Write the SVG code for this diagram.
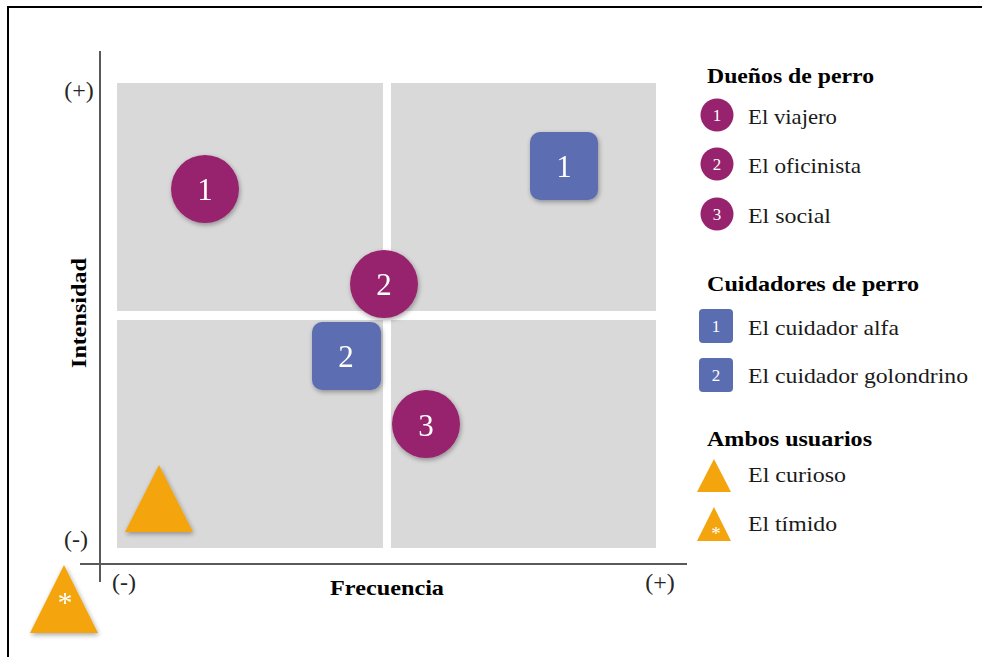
<svg xmlns="http://www.w3.org/2000/svg" width="982" height="657" viewBox="0 0 982 657">
  <defs>
    <filter id="shadow" x="-30%" y="-30%" width="160%" height="160%">
      <feGaussianBlur in="SourceAlpha" stdDeviation="2.5"/>
      <feOffset dx="1" dy="2" result="b"/>
      <feComponentTransfer><feFuncA type="linear" slope="0.35"/></feComponentTransfer>
      <feMerge><feMergeNode/><feMergeNode in="SourceGraphic"/></feMerge>
    </filter>
  </defs>
  <style>
    .quad { fill: #d9d9d9; }
    .axis { stroke: #595959; stroke-width: 2; fill: none; }
    .owner { fill: #97226d; }
    .sitter { fill: #5b6db1; }
    .both { fill: #f4a40c; }
    .num { font-family: "Liberation Serif", "Times New Roman", serif; fill: #ffffff; text-anchor: middle; }
    .big { font-size: 31px; }
    .small { font-size: 17px; }
    .lbl { font-family: "Liberation Serif", "Times New Roman", serif; font-size: 22px; fill: #1a1a1a; }
    .head { font-family: "Liberation Serif", "Times New Roman", serif; font-size: 21px; font-weight: bold; fill: #000000; }
    .tick { font-family: "Liberation Serif", "Times New Roman", serif; font-size: 24px; fill: #262626; text-anchor: middle; }
  </style>

  <!-- frame -->
  <path d="M982 7 H8 V657" fill="none" stroke="#000000" stroke-width="2"/>

  <!-- quadrants -->
  <g id="quadrants">
    <rect class="quad" x="117" y="83" width="266" height="228"/>
    <rect class="quad" x="391" y="83" width="265" height="228"/>
    <rect class="quad" x="117" y="320" width="266" height="228"/>
    <rect class="quad" x="391" y="320" width="265" height="228"/>
  </g>

  <!-- axes -->
  <g id="axes">
    <line class="axis" x1="100" y1="51" x2="100" y2="582"/>
    <line class="axis" x1="80" y1="564" x2="687" y2="564"/>
    <text class="tick" x="79" y="98">(+)</text>
    <text class="tick" x="76" y="547">(-)</text>
    <text class="tick" x="124" y="590">(-)</text>
    <text class="tick" x="660" y="590">(+)</text>
    <text class="head" x="330" y="595" textLength="114" lengthAdjust="spacingAndGlyphs">Frecuencia</text>
    <text class="head" transform="translate(86 368) rotate(-90)" textLength="110" lengthAdjust="spacingAndGlyphs">Intensidad</text>
  </g>

  <!-- plotted profiles -->
  <g id="owner-1" filter="url(#shadow)">
    <circle class="owner" cx="205" cy="189" r="34"/>
    <text class="num big" x="205" y="200">1</text>
  </g>
  <g id="owner-2" filter="url(#shadow)">
    <circle class="owner" cx="384" cy="284" r="34"/>
    <text class="num big" x="384" y="295">2</text>
  </g>
  <g id="owner-3" filter="url(#shadow)">
    <circle class="owner" cx="426" cy="424" r="34"/>
    <text class="num big" x="426" y="436">3</text>
  </g>
  <g id="sitter-1" filter="url(#shadow)">
    <rect class="sitter" x="530" y="132" width="68" height="68" rx="10"/>
    <text class="num big" x="564" y="177">1</text>
  </g>
  <g id="sitter-2" filter="url(#shadow)">
    <rect class="sitter" x="312" y="322" width="69" height="68" rx="10"/>
    <text class="num big" x="346" y="367">2</text>
  </g>
  <g id="curious" filter="url(#shadow)">
    <polygon class="both" points="159,465 193,532 125,532"/>
  </g>
  <g id="shy" filter="url(#shadow)">
    <polygon class="both" points="64,565 98,633 30,633"/>
    <text class="num" x="65" y="612" font-size="30">*</text>
  </g>

  <!-- legend -->
  <g id="legend-owners">
    <text class="head" x="707" y="83" textLength="167" lengthAdjust="spacingAndGlyphs">Dueños de perro</text>
    <circle class="owner" cx="717" cy="115" r="16.5"/>
    <text class="num small" x="717" y="121">1</text>
    <text class="lbl" x="748" y="124" textLength="89" lengthAdjust="spacingAndGlyphs">El viajero</text>
    <circle class="owner" cx="717" cy="164" r="16.5"/>
    <text class="num small" x="717" y="170">2</text>
    <text class="lbl" x="748" y="173" textLength="113" lengthAdjust="spacingAndGlyphs">El oficinista</text>
    <circle class="owner" cx="717" cy="214" r="16.5"/>
    <text class="num small" x="717" y="220">3</text>
    <text class="lbl" x="748" y="223" textLength="83" lengthAdjust="spacingAndGlyphs">El social</text>
  </g>
  <g id="legend-sitters">
    <text class="head" x="707" y="291" textLength="212" lengthAdjust="spacingAndGlyphs">Cuidadores de perro</text>
    <rect class="sitter" x="699" y="309" width="34" height="34" rx="4"/>
    <text class="num small" x="716" y="332">1</text>
    <text class="lbl" x="748" y="335" textLength="151" lengthAdjust="spacingAndGlyphs">El cuidador alfa</text>
    <rect class="sitter" x="699" y="358" width="34" height="34" rx="4"/>
    <text class="num small" x="716" y="381">2</text>
    <text class="lbl" x="748" y="383" textLength="220" lengthAdjust="spacingAndGlyphs">El cuidador golondrino</text>
  </g>
  <g id="legend-both">
    <text class="head" x="707" y="446" textLength="165" lengthAdjust="spacingAndGlyphs">Ambos usuarios</text>
    <polygon class="both" points="714,459 731,492 697,492"/>
    <text class="lbl" x="748" y="482" textLength="98" lengthAdjust="spacingAndGlyphs">El curioso</text>
    <polygon class="both" points="714,507 731,541 697,541"/>
    <text class="num" x="716" y="540" font-size="19">*</text>
    <text class="lbl" x="748" y="531" textLength="89" lengthAdjust="spacingAndGlyphs">El tímido</text>
  </g>
</svg>
